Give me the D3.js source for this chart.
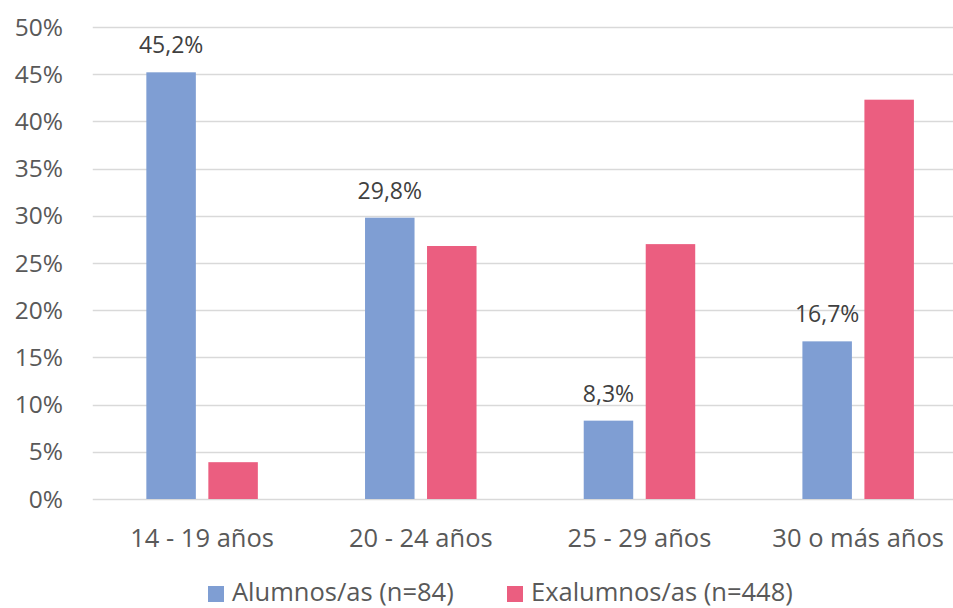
<!DOCTYPE html>
<html>
<head>
<meta charset="utf-8">
<script src="https://cdn.jsdelivr.net/npm/d3@7"></script>
<style>
  html, body { margin: 0; padding: 0; background: #fff; }
  svg { display: block; font-family: "Open Sans", Lato, sans-serif; }
</style>
</head>
<body>
<svg id="chart" width="953" height="608"></svg>
<script>
// Age groups and percentages per group
const categories = ["14 - 19 años", "20 - 24 años", "25 - 29 años", "30 o más años"];
const alumnos = [45.2, 29.8, 8.3, 16.7];
const exalumnos = [3.9, 26.8, 27.0, 42.3];
const seriesNames = ["Alumnos/as (n=84)", "Exalumnos/as (n=448)"];
const seriesColors = ["#7F9ED3", "#EB5E80"];
const yTicks = [0, 5, 10, 15, 20, 25, 30, 35, 40, 45, 50];

const svg = d3.select("#chart");

const plot = { left: 92.75, right: 967.5, top: 27, bottom: 499 };

const x = d3.scaleBand()
  .domain(categories)
  .range([plot.left, plot.right])
  .paddingInner(0)
  .paddingOuter(0);

const y = d3.scaleLinear()
  .domain([0, 50])
  .range([plot.bottom, plot.top]);

const barW = 49.5;
const barGap = 12.5;
const groupW = barW * 2 + barGap;
const inner = d3.scaleOrdinal().domain([0, 1]).range([0, barW + barGap]);

// Gridlines
svg.append("g")
  .selectAll("line")
  .data(yTicks)
  .join("line")
  .attr("x1", plot.left)
  .attr("x2", 953)
  .attr("y1", d => Math.round(y(d)) + 0.5)
  .attr("y2", d => Math.round(y(d)) + 0.5)
  .attr("stroke", "#D9D9D9")
  .attr("stroke-width", 1.3);

// Y tick labels
svg.append("g")
  .selectAll("text")
  .data(yTicks)
  .join("text")
  .attr("x", 63)
  .attr("y", d => y(d) + 8.5)
  .attr("text-anchor", "end")
  .attr("font-size", 24.5)
  .attr("fill", "#595959")
  .text(d => d + "%");

// Bars
const series = [alumnos, exalumnos];
const rows = categories.map((c, i) => ({ cat: c, values: series.map(s => s[i]) }));

const groups = svg.append("g")
  .selectAll("g")
  .data(rows)
  .join("g")
  .attr("transform", d => `translate(${x(d.cat) + (x.bandwidth() - groupW) / 2},0)`);

groups.selectAll("rect")
  .data(d => d.values.map((v, k) => ({ v, k })))
  .join("rect")
  .attr("x", d => inner(d.k))
  .attr("width", barW)
  .attr("y", d => y(d.v))
  .attr("height", d => y(0) - y(d.v))
  .attr("fill", d => seriesColors[d.k]);

// Value labels on the first series
groups.append("text")
  .attr("x", barW / 2)
  .attr("y", d => y(d.values[0]) - 19)
  .attr("text-anchor", "middle")
  .attr("font-size", 23)
  .attr("fill", "#404040")
  .text(d => d3.format(".1f")(d.values[0]).replace(".", ",") + "%");

// Category labels
svg.append("g")
  .selectAll("text")
  .data(categories)
  .join("text")
  .attr("x", d => x(d) + x.bandwidth() / 2)
  .attr("y", 547)
  .attr("text-anchor", "middle")
  .attr("font-size", 25.5)
  .attr("fill", "#595959")
  .text(d => d);

// Legend
const legendX = [208, 507];
const legend = svg.append("g")
  .selectAll("g")
  .data(seriesNames)
  .join("g")
  .attr("transform", (d, i) => `translate(${legendX[i]},0)`);

legend.append("rect")
  .attr("x", 0)
  .attr("y", 586)
  .attr("width", 16)
  .attr("height", 16)
  .attr("fill", (d, i) => seriesColors[i]);

legend.append("text")
  .attr("x", 24)
  .attr("y", 601)
  .attr("font-size", 25.5)
  .attr("fill", "#595959")
  .text(d => d);
</script>
</body>
</html>
